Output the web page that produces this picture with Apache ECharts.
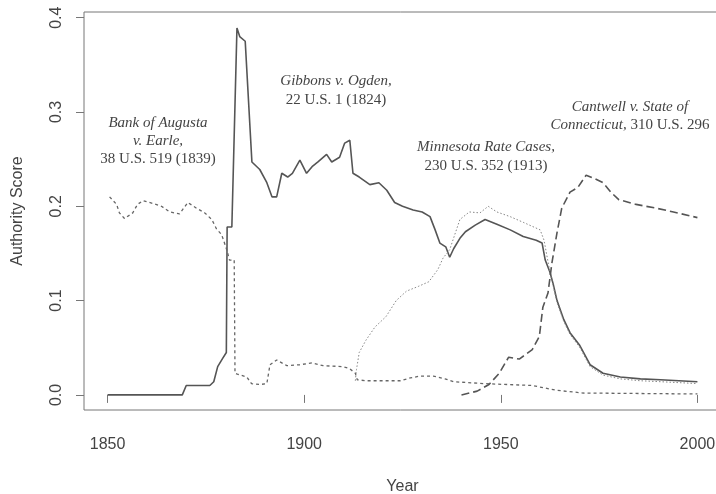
<!DOCTYPE html>
<html>
<head>
<meta charset="utf-8">
<script src="https://cdn.jsdelivr.net/npm/echarts@6/dist/echarts.min.js"></script>
<style>
html,body{margin:0;padding:0;background:#fff;}
#chart{width:716px;height:494px;}
</style>
</head>
<body>
<div id="chart"></div>
<script>
// ---- data ----
const xTicks = [1850, 1900, 1950, 2000];
const yTicks = [0, 0.1, 0.2, 0.3, 0.4];

const gibbonsYears = [1850,1869,1870,1876,1877,1878,1879.3,1880.2,1880.4,1881.6,1882.9,1883.6,1885,1886.7,1888.7,1890.5,1891.8,1893,1894.3,1895.8,1897,1898.9,1900.6,1902,1903.5,1905.7,1907,1909,1910.3,1911.6,1912.4,1914,1916.7,1919,1921,1923,1925,1927.7,1930,1932,1933.3,1934.5,1936,1937,1938,1939.6,1941,1943.5,1946,1949,1952.4,1955.7,1959,1960.5,1961.3,1962.5,1963.3,1964.3,1966,1967.6,1970,1972.7,1976,1980.4,1985.5,1990.6,2000];
const gibbonsScores = [0,0,0.01,0.01,0.014,0.03,0.039,0.045,0.178,0.178,0.389,0.38,0.375,0.247,0.239,0.225,0.21,0.21,0.235,0.231,0.235,0.249,0.235,0.242,0.247,0.255,0.247,0.252,0.267,0.27,0.235,0.231,0.223,0.225,0.217,0.204,0.2,0.196,0.194,0.189,0.175,0.161,0.157,0.146,0.155,0.166,0.173,0.18,0.186,0.181,0.175,0.168,0.164,0.161,0.143,0.13,0.118,0.1,0.08,0.066,0.053,0.032,0.023,0.019,0.017,0.016,0.014];

const minnesotaYears = [1913,1913.3,1914,1915.7,1918,1920.8,1923.4,1926,1929,1931.7,1934,1935.3,1937,1939.6,1942,1944.7,1946.8,1949,1952.4,1955.7,1960,1961,1962.5,1964.3,1966,1967.6,1970,1972.7,1976,1980.4,1985.5,1990.6,2000];
const minnesotaScores = [0.015,0.027,0.045,0.058,0.072,0.083,0.1,0.11,0.115,0.12,0.133,0.145,0.154,0.186,0.194,0.193,0.2,0.194,0.189,0.183,0.175,0.164,0.13,0.098,0.078,0.064,0.051,0.03,0.021,0.017,0.015,0.014,0.012];

const augustaYears = [1850.5,1852.3,1853,1854.3,1856.4,1857.6,1859,1861.5,1863.7,1865.8,1868.3,1870.4,1872.6,1874.7,1876.5,1877.7,1879,1880.3,1881,1882.2,1882.4,1883,1885.4,1886.6,1888.7,1890.5,1891.3,1893,1895.6,1898.9,1902,1904.8,1909.8,1911.5,1913,1913.5,1916,1920,1924.4,1927,1929.5,1932.8,1935.8,1938,1945.5,1958,1964,1971,2000];
const augustaScores = [0.21,0.202,0.193,0.187,0.193,0.202,0.206,0.203,0.2,0.194,0.192,0.204,0.198,0.193,0.186,0.176,0.17,0.154,0.143,0.143,0.023,0.022,0.019,0.012,0.011,0.012,0.032,0.037,0.031,0.032,0.034,0.031,0.03,0.028,0.023,0.016,0.015,0.015,0.015,0.018,0.02,0.02,0.017,0.014,0.012,0.01,0.005,0.002,0.001];

const cantwellYears = [1940,1944,1947,1949.6,1952,1954.7,1958,1959.8,1960.7,1962,1963,1964.3,1965.5,1967.6,1969.6,1971.7,1974,1976,1978,1980,1984.4,1989.5,1993.9,2000];
const cantwellScores = [0,0.004,0.011,0.023,0.04,0.038,0.048,0.062,0.093,0.108,0.14,0.172,0.198,0.215,0.22,0.233,0.229,0.225,0.215,0.207,0.202,0.198,0.194,0.188];

const zip = (xs, ys) => xs.map((x, i) => [x, ys[i]]);

const chart = echarts.init(document.getElementById('chart'), null, {renderer: 'canvas'});
const sans = 'Liberation Sans, Arial, sans-serif';
const serif = 'Liberation Serif, Times New Roman, serif';
const txtColor = '#444';

function note(x, y, text, lh) {
  return {type: 'text', x: x, y: y, silent: true, style: {
    text: text, align: 'center', verticalAlign: 'top', fill: txtColor,
    fontFamily: serif, fontSize: 15, lineHeight: lh,
    rich: {i: {fontStyle: 'italic', fontFamily: serif, fontSize: 15, fill: txtColor, lineHeight: lh}}
  }};
}

const option = {
  backgroundColor: '#fff',
  animation: false,
  grid: {left: 84, top: 12, width: 637, bottom: 84, outerBoundsMode: 'none', containLabel: false,
    show: true, borderColor: '#777', borderWidth: 1, backgroundColor: 'transparent'},
  xAxis: {
    type: 'value', min: 1844, max: 2006,
    name: 'Year', nameLocation: 'middle', nameGap: 69,
    nameTextStyle: {fontFamily: sans, fontSize: 16, color: txtColor},
    axisLine: {show: false},
    splitLine: {show: false},
    axisTick: {show: true, length: 8, lineStyle: {color: '#777'}, customValues: xTicks},
    axisLabel: {customValues: xTicks, fontFamily: sans, fontSize: 16, color: txtColor, margin: 27,
      formatter: v => String(v)}
  },
  yAxis: {
    type: 'value', min: -0.016, max: 0.406,
    name: 'Authority Score', nameLocation: 'middle', nameGap: 58,
    nameTextStyle: {fontFamily: sans, fontSize: 16, color: txtColor},
    axisLine: {show: false},
    splitLine: {show: false},
    axisTick: {show: true, length: 8, lineStyle: {color: '#777'}, customValues: yTicks},
    axisLabel: {customValues: yTicks, rotate: 90, fontFamily: sans, fontSize: 16, color: txtColor, margin: 19,
      formatter: v => v.toFixed(1)}
  },
  series: [
    {type: 'line', name: 'Gibbons', data: zip(gibbonsYears, gibbonsScores), showSymbol: false,
      lineStyle: {color: '#555', width: 1.6, type: 'solid'}},
    {type: 'line', name: 'Minnesota', data: zip(minnesotaYears, minnesotaScores), showSymbol: false,
      lineStyle: {color: '#888', width: 1, type: [1.5, 2]}},
    {type: 'line', name: 'Augusta', data: zip(augustaYears, augustaScores), showSymbol: false,
      lineStyle: {color: '#666', width: 1.3, type: [3, 3]}},
    {type: 'line', name: 'Cantwell', data: zip(cantwellYears, cantwellScores), showSymbol: false,
      lineStyle: {color: '#555', width: 1.6, type: [8, 4]}}
  ],
  graphic: [
    note(158, 114, '{i|Bank of Augusta}\n{i|v. Earle,}\n38 U.S. 519 (1839)', 18),
    note(336, 72, '{i|Gibbons v. Ogden,}\n22 U.S. 1 (1824)', 19),
    note(486, 138, '{i|Minnesota Rate Cases,}\n230 U.S. 352 (1913)', 19),
    note(630, 98, '{i|Cantwell v. State of}\n{i|Connecticut,} 310 U.S. 296', 18)
  ]
};
chart.setOption(option);
</script>
</body>
</html>
